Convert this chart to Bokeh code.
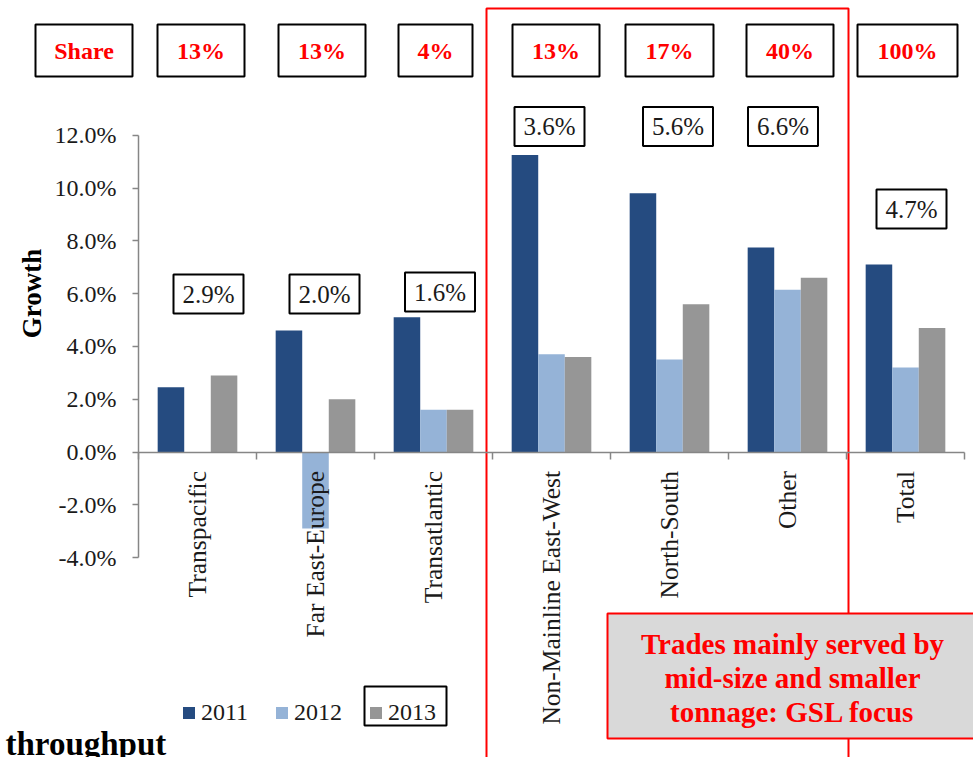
import math

from bokeh.core.properties import value
from bokeh.embed import file_html
from bokeh.models import (FixedTicker, Legend, LegendItem, LinearAxis,
                          PrintfTickFormatter, Range1d)
from bokeh.plotting import figure
from bokeh.resources import INLINE

# ---- data -------------------------------------------------------------
categories = ["Transpacific", "Far East-Europe", "Transatlantic",
              "Non-Mainline East-West", "North-South", "Other", "Total"]
years = ["2011", "2012", "2013"]
growth_2011 = [2.45, 4.6, 5.1, 11.25, 9.8, 7.75, 7.1]
growth_2012 = [0.0, -2.9, 1.6, 3.7, 3.5, 6.15, 3.2]
growth_2013 = [2.9, 2.0, 1.6, 3.6, 5.6, 6.6, 4.7]
share_header = "Share"
share_labels = ["13%", "13%", "4%", "13%", "17%", "40%", "100%"]
y_ticks = [-4, -2, 0, 2, 4, 6, 8, 10, 12]
focus_note = ["Trades mainly served by", "mid-size and smaller", "tonnage: GSL focus"]

# ---- canvas geometry ------------------------------------------------------
W, H = 973, 757
X0_PX, Y0_PX = 138.0, 451.5      # where category 0 / 0% sit on the canvas
CAT_PX, PCT_PX = 118.0, 26.4     # pixels per category, pixels per percentage point


def px_x(px):
    return (px - X0_PX) / CAT_PX


def px_y(py):
    return (Y0_PX - py) / PCT_PX


SERIF = value("Liberation Serif")
RED = "#ff0000"
INK = "#1a1a1a"

p = figure(width=W, height=H, output_backend="svg", toolbar_location=None,
           x_range=Range1d(px_x(0), px_x(W)), y_range=Range1d(px_y(H), px_y(0)),
           x_axis_location=None, y_axis_location=None, min_border=0)
p.outline_line_color = None
p.xgrid.visible = False
p.ygrid.visible = False
p.background_fill_color = "white"
p.border_fill_color = "white"

# ---- axes -----------------------------------------------------------------
AXIS_GREY = "#868686"
yaxis = LinearAxis(fixed_location=0, bounds=(y_ticks[0], y_ticks[-1]),
                   ticker=FixedTicker(ticks=y_ticks),
                   formatter=PrintfTickFormatter(format="%.1f%%"))
yaxis.axis_line_color = AXIS_GREY
yaxis.axis_line_width = 1.5
yaxis.major_tick_line_color = AXIS_GREY
yaxis.major_tick_line_width = 1.5
yaxis.major_tick_out = 6
yaxis.major_tick_in = 0
yaxis.minor_tick_line_color = None
yaxis.major_label_standoff = 16
yaxis.major_label_text_font = "Liberation Serif"
yaxis.major_label_text_font_size = "24px"
yaxis.major_label_text_color = INK
p.add_layout(yaxis, "left")

n = len(categories)
centers = [i + 0.5 for i in range(n)]
# category names sit at the cluster centres, reading upwards;
# tick marks fall between clusters
xaxis = LinearAxis(fixed_location=0, bounds=(0, n),
                   ticker=FixedTicker(ticks=centers, minor_ticks=list(range(n + 1))),
                   major_label_overrides={c: name for c, name in zip(centers, categories)},
                   major_label_orientation=math.pi / 2)
xaxis.axis_line_color = AXIS_GREY
xaxis.axis_line_width = 1.5
xaxis.major_tick_line_color = None
xaxis.major_tick_out = 0
xaxis.major_tick_in = 0
xaxis.minor_tick_line_color = AXIS_GREY
xaxis.minor_tick_line_width = 1.5
xaxis.minor_tick_out = 7
xaxis.minor_tick_in = 0
xaxis.major_label_standoff = 12
xaxis.major_label_text_font = "Liberation Serif"
xaxis.major_label_text_font_size = "25.5px"
xaxis.major_label_text_color = INK
p.add_layout(xaxis, "below")

# ---- clustered bars -------------------------------------------------------
bar_w = 0.225
colors = ["#254b80", "#95b3d7", "#969696"]
series = [growth_2011, growth_2012, growth_2013]
renderers = []
for k, (vals, col) in enumerate(zip(series, colors)):
    xs = [c + (k - 1) * bar_w for c in centers]
    r = p.vbar(x=xs, top=vals, bottom=0, width=bar_w, fill_color=col, line_color=None)
    renderers.append(r)

# ---- frame around the focus trades ---------------------------------------
p.quad(left=px_x(486), right=px_x(848), top=px_y(8), bottom=px_y(H + 40),
       fill_color=None, line_color=RED, line_width=2)

# ---- focus note ------------------------------------------------------------
p.quad(left=px_x(607), right=px_x(W + 20), top=px_y(613), bottom=px_y(738),
       fill_color="#d9d9d9", line_color=RED, line_width=2)
p.text(x=[px_x(792)] * 3, y=[px_y(643), px_y(677), px_y(711)], text=focus_note,
       text_align="center", text_baseline="middle", text_font=SERIF,
       text_font_style="bold", text_font_size="29px", text_color=RED)

# ---- share-of-trade boxes across the top ----------------------------------
share_dx = [4.5, 3.5, 6.5, 2, 4.5, 0, 2.5, 2]
share_w = [97, 87, 87, 74, 87, 88, 87, 100]
share_x = [i + 0.5 + share_dx[i + 1] / CAT_PX for i in range(-1, n)]
share_y = [px_y(50)] * (n + 1)
p.rect(x=share_x, y=share_y, width=share_w, height=52, width_units="screen",
       height_units="screen", fill_color="white", line_color="black", line_width=2)
p.text(x=share_x, y=share_y, text=[share_header] + share_labels, text_align="center",
       text_baseline="middle", text_font=SERIF, text_font_style="bold",
       text_font_size="24px", text_color=RED)

# ---- 2013 growth tags -------------------------------------------------------
tag_dx = [11, 9, 6.5, -2, 8.5, -4.5, 6]
tag_y = [px_y(293.5), px_y(293.5), px_y(291.5), px_y(126), px_y(126), px_y(126), px_y(208.5)]
tag_x = [c + d / CAT_PX for c, d in zip(centers, tag_dx)]
p.rect(x=tag_x, y=tag_y, width=70, height=39, width_units="screen", height_units="screen",
       fill_color="white", line_color="black", line_width=2)
p.text(x=tag_x, y=tag_y, text=[f"{v:.1f}%" for v in growth_2013], text_align="center",
       text_baseline="middle", text_font=SERIF, text_font_size="25px", text_color=INK)

# ---- axis title & footer ----------------------------------------------------
p.text(x=[px_x(31)], y=[px_y(293)], text=["Growth"], angle=math.pi / 2,
       text_align="center", text_baseline="middle", text_font=SERIF,
       text_font_style="bold", text_font_size="27px", text_color="black")
p.text(x=[px_x(5)], y=[px_y(725)], text=["throughput"], text_align="left",
       text_baseline="top", text_font=SERIF, text_font_style="bold",
       text_font_size="33px", text_color="black")

# ---- legend -----------------------------------------------------------------
p.quad(left=px_x(364), right=px_x(446), top=px_y(686), bottom=px_y(725),
       fill_color=None, line_color="black", line_width=2)
legend = Legend(items=[LegendItem(label=y, renderers=[r]) for y, r in zip(years, renderers)],
                orientation="horizontal", location=(181, 31), glyph_width=15,
                glyph_height=15, label_standoff=5, spacing=26, padding=0, margin=0,
                border_line_color=None, background_fill_alpha=0,
                label_text_font="Liberation Serif", label_text_font_size="24px",
                label_text_color=INK)
p.add_layout(legend, "center")

open("out.html", "w").write(file_html(p, INLINE))
